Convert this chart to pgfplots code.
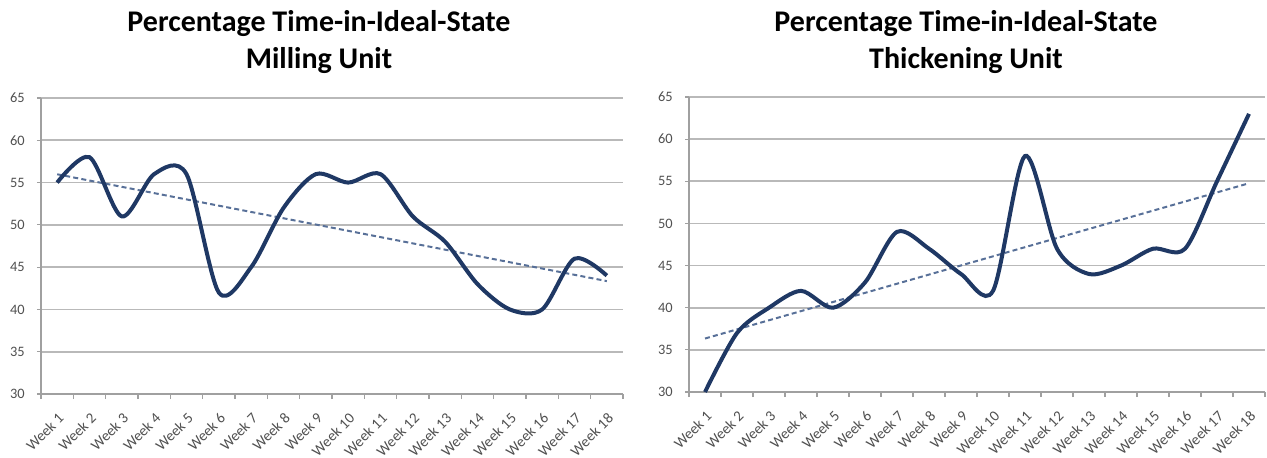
\documentclass[border=0pt]{standalone}
\usepackage{pgfplots}
\pgfplotsset{compat=1.18}
\usepackage{pgfplotstable}
\usepackage{fontspec}
\setmainfont{Carlito}

\definecolor{linenavy}{RGB}{31,56,100}
\definecolor{trendblue}{RGB}{88,112,152}
\definecolor{gridgray}{RGB}{185,185,185}
\definecolor{axisgray}{RGB}{160,160,160}
\definecolor{labelgray}{RGB}{80,80,80}

% Weekly percentage of time spent in the ideal state
\pgfplotstableread{
week milling thickening
1  55 30
2  58 37
3  51 40
4  56 42
5  56 40
6  42 43
7  45 49
8  52 47
9  56 44
10 55 42
11 56 58
12 51 47
13 48 44
14 43 45
15 40 47
16 40 47
17 46 55
18 44 63
}\weekly

\pgfplotsset{
  unitchart/.style={
    scale only axis,
    xmin=0.5, xmax=18.5, ymin=30, ymax=65,
    ytick={30,35,...,65},
    xtick={1,...,18},
    xticklabels={Week 1,Week 2,Week 3,Week 4,Week 5,Week 6,Week 7,Week 8,Week 9,
      Week 10,Week 11,Week 12,Week 13,Week 14,Week 15,Week 16,Week 17,Week 18},
    minor xtick={0.5,1.5,...,18.5},
    axis x line*=bottom, axis y line*=left,
    axis line style={axisgray, line width=0.8pt, -},
    ymajorgrids, major grid style={gridgray, line width=0.9pt},
    tick align=outside,
    major tick length=2pt, minor tick length=2.5pt,
    every tick/.style={axisgray, line width=0.6pt},
    major x tick style={draw=none},
    /pgf/number format/assume math mode=true,
    ticklabel style={text=labelgray},
    xticklabel style={font=\fontsize{7.5}{9}\selectfont, rotate=45,
      anchor=north east, inner sep=1pt, xshift=-3.8pt, yshift=-3.8pt},
    yticklabel style={font=\fontsize{7.2}{9}\selectfont, inner sep=1pt, xshift=-5pt},
    title style={align=center, font=\fontsize{15}{18.5}\selectfont\bfseries,
      anchor=north, at={(0.5,1)}, inner sep=0pt},
  },
  trend/.style={trendblue, line width=1pt, dash pattern=on 2.5pt off 1.6pt},
  weekly line/.style={linenavy, line width=2pt, smooth, tension=0.5},
}

\begin{document}
\begin{tikzpicture}
\useasboundingbox (0,0) rectangle (633.5pt,228.5pt);

\begin{axis}[unitchart,
  at={(20.5pt,31.5pt)}, anchor=south west,
  width=291pt, height=148pt,
  title={Percentage Time-in-Ideal-State\\Milling Unit},
  title style={yshift=38pt, xshift=-6.5pt}]
  \addplot[trend] table[x=week, y={create col/linear regression={y=milling}}] {\weekly};
  \addplot[weekly line] table[x=week, y=milling] {\weekly};
\end{axis}

\begin{axis}[unitchart,
  at={(344.5pt,32.5pt)}, anchor=south west,
  width=288pt, height=147.5pt,
  title={Percentage Time-in-Ideal-State\\Thickening Unit},
  title style={yshift=37.5pt, xshift=-5.5pt}]
  \addplot[trend] table[x=week, y={create col/linear regression={y=thickening}}] {\weekly};
  \addplot[weekly line] table[x=week, y=thickening] {\weekly};
\end{axis}
\end{tikzpicture}
\end{document}
